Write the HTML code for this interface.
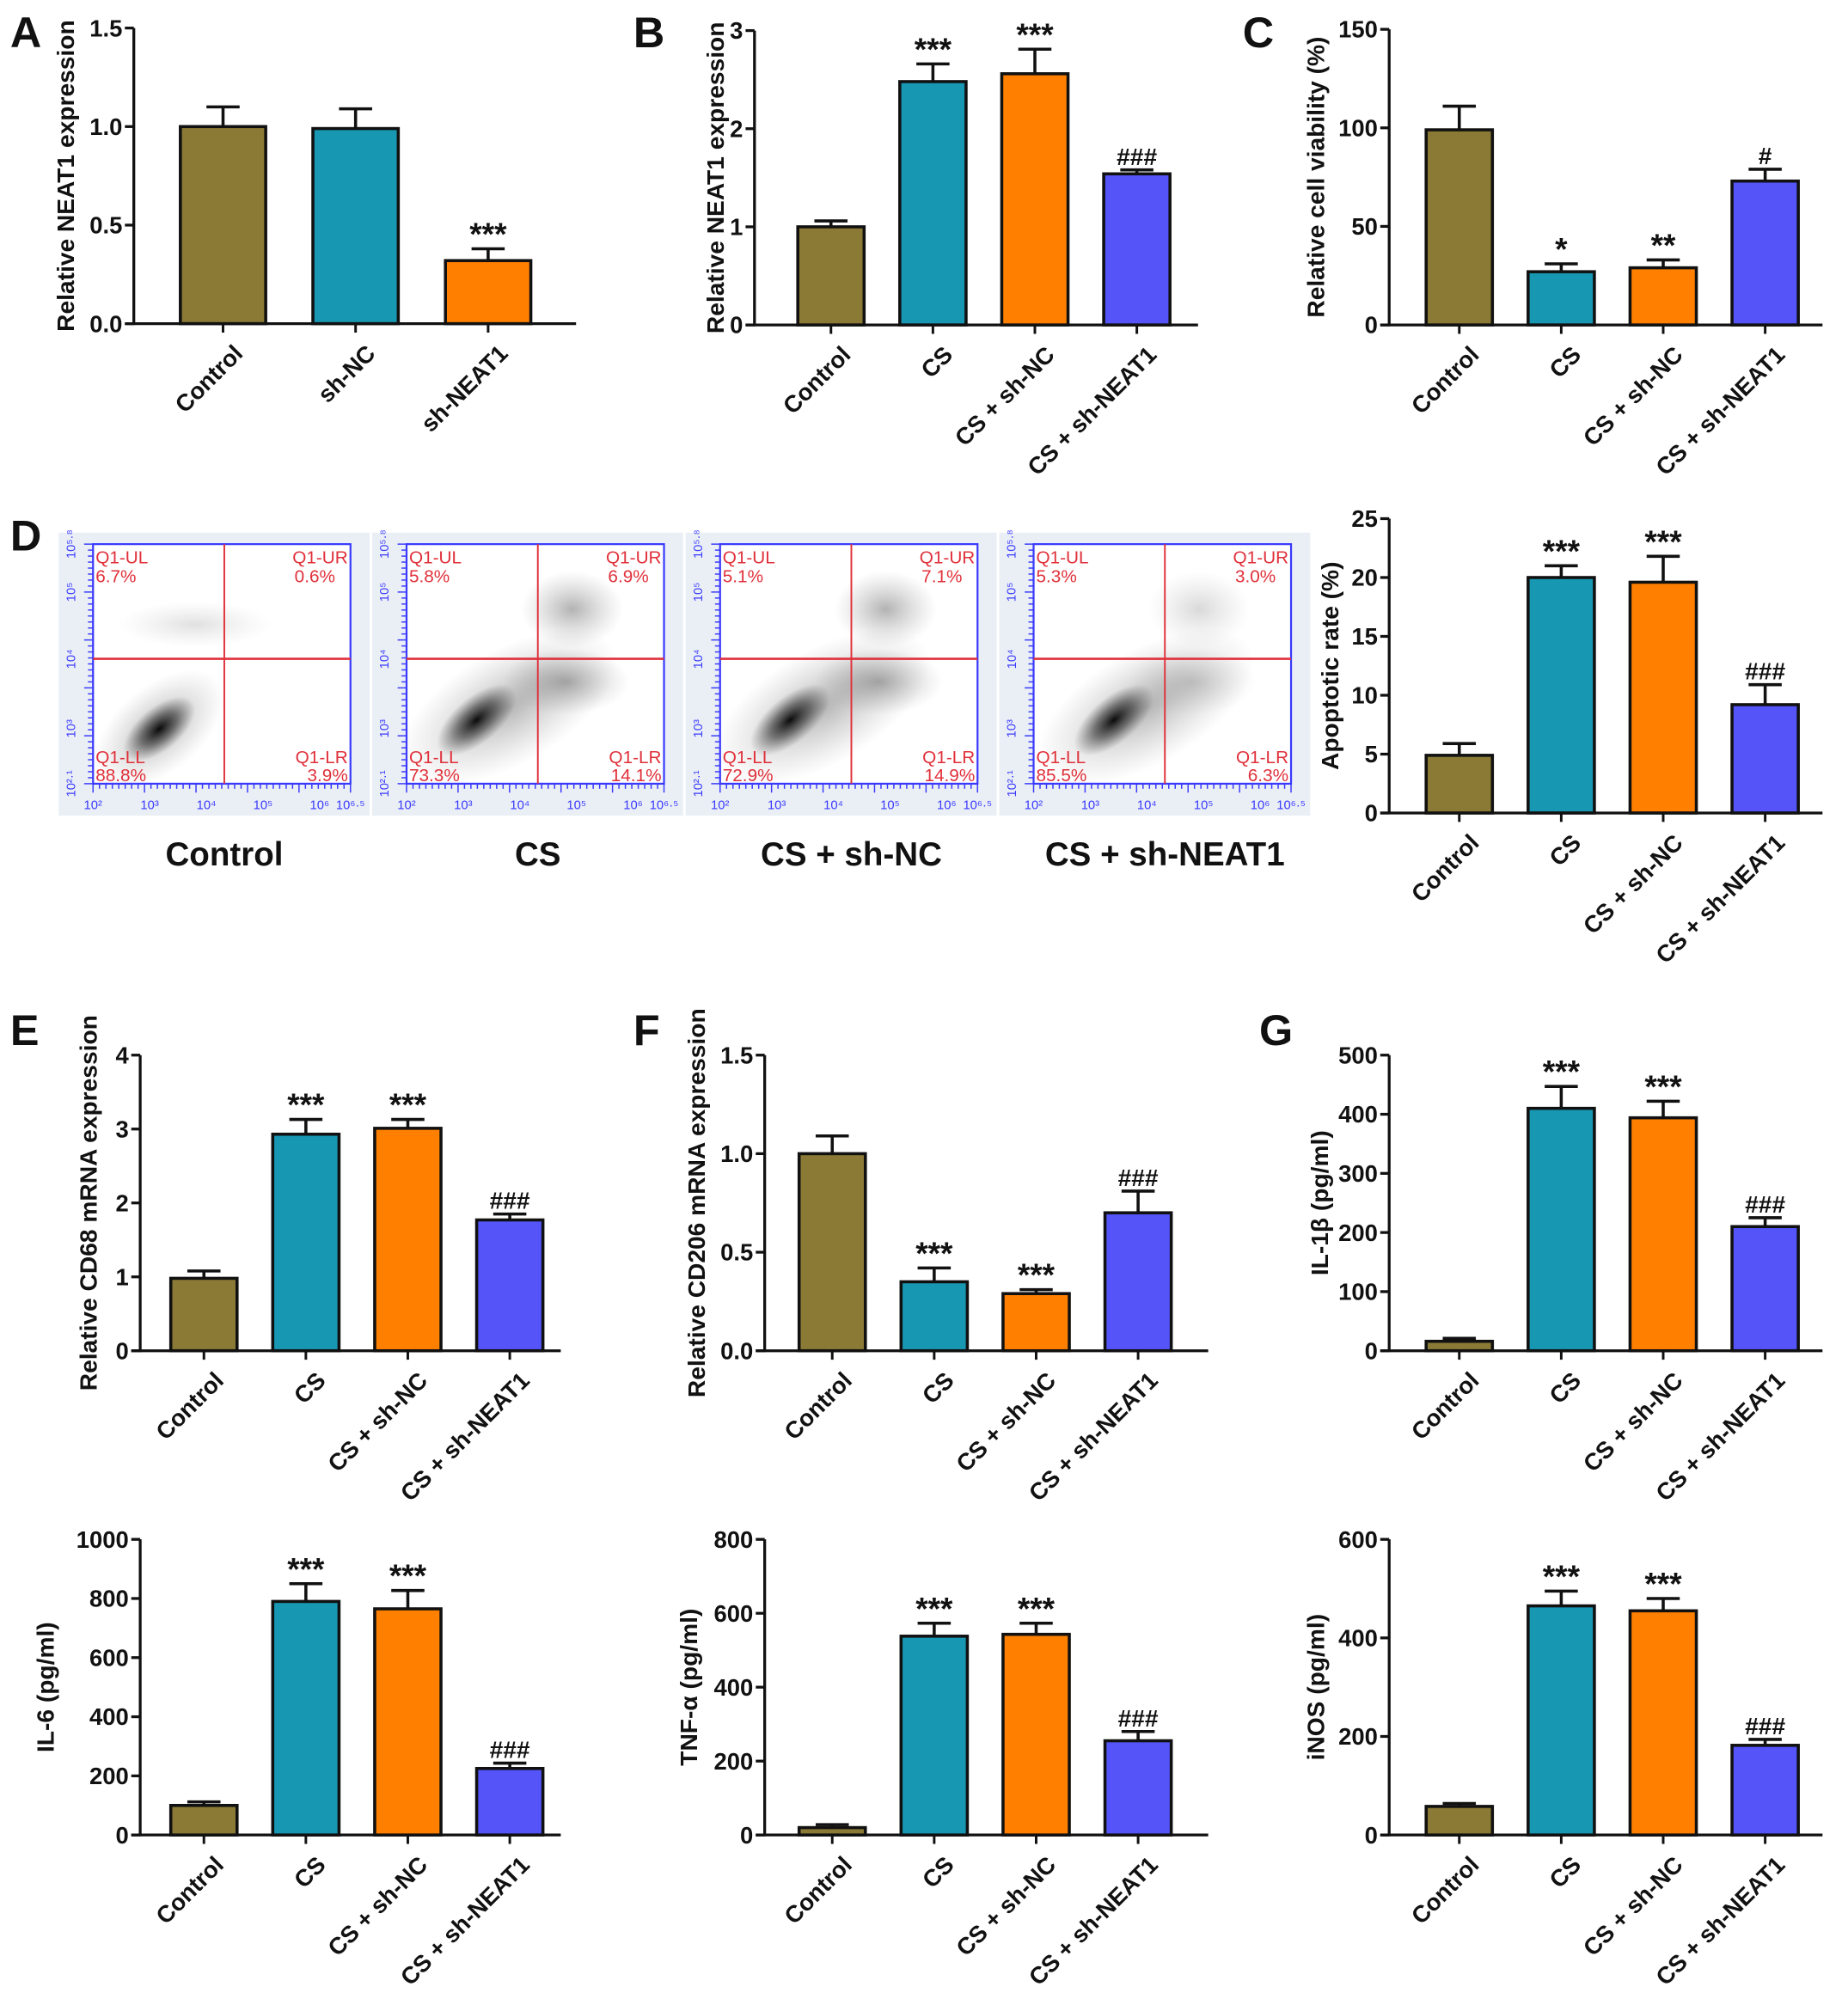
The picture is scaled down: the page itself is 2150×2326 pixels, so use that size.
<!DOCTYPE html>
<html><head><meta charset="utf-8">
<style>
html,body{margin:0;padding:0;background:#fff;}
svg{display:block;font-family:"Liberation Sans",Arial,sans-serif;}
</style></head>
<body>
<svg id="fig" width="2150" height="2326" viewBox="0 0 1450 1568.7" xmlns="http://www.w3.org/2000/svg">
<defs>
<radialGradient id="blob"><stop offset="0" stop-color="#000" stop-opacity="0.95"/><stop offset="0.5" stop-color="#222" stop-opacity="0.55"/><stop offset="1" stop-color="#444" stop-opacity="0"/></radialGradient>
<radialGradient id="haze"><stop offset="0" stop-color="#555" stop-opacity="0.45"/><stop offset="1" stop-color="#888" stop-opacity="0"/></radialGradient>
</defs>
</svg>
<script>
// ---- data ----
const groups4 = ["Control","CS","CS + sh-NC","CS + sh-NEAT1"];
const groupsA = ["Control","sh-NC","sh-NEAT1"];
const colors4 = ["#8a7a36","#1797b2","#ff8000","#5454f8"];
const colorsA = ["#8a7a36","#1797b2","#ff8000"];

const valsA = [1.0,0.99,0.32];  const errA = [0.10,0.10,0.06]; const annA = ["","","***"];
const valsB = [1.0,2.48,2.56,1.54]; const errB = [0.06,0.18,0.25,0.04]; const annB = ["","***","***","###"];
const valsC = [99,27,29,73]; const errC = [12,4,4,6]; const annC = ["","*","**","#"];
const valsD = [4.9,20.0,19.6,9.2]; const errD = [1.0,1.0,2.2,1.7]; const annD = ["","***","***","###"];
const valsE = [0.98,2.93,3.01,1.77]; const errE = [0.1,0.2,0.12,0.08]; const annE = ["","***","***","###"];
const valsF = [1.0,0.35,0.29,0.70]; const errF = [0.09,0.07,0.02,0.11]; const annF = ["","***","***","###"];
const valsG = [16,410,394,210]; const errG = [5,37,28,15]; const annG = ["","***","***","###"];
const valsIL6 = [100,790,765,225]; const errIL6 = [12,60,62,18]; const annIL6 = ["","***","***","###"];
const valsTNF = [20,538,543,255]; const errTNF = [8,35,30,25]; const annTNF = ["","***","***","###"];
const valsINOS = [58,465,455,182]; const errINOS = [6,30,25,12]; const annINOS = ["","***","***","###"];

const ticksA = [0,0.5,1.0,1.5]; const tickLabA = ["0.0","0.5","1.0","1.5"];
const ticksB = [0,1,2,3]; const tickLabB = ["0","1","2","3"];
const ticksC = [0,50,100,150]; const tickLabC = ["0","50","100","150"];
const ticksD = [0,5,10,15,20,25]; const tickLabD = ["0","5","10","15","20","25"];
const ticksE = [0,1,2,3,4]; const tickLabE = ["0","1","2","3","4"];
const ticksF = [0,0.5,1.0,1.5]; const tickLabF = ["0.0","0.5","1.0","1.5"];
const ticksG = [0,100,200,300,400,500]; const tickLabG = ["0","100","200","300","400","500"];
const ticksIL6 = [0,200,400,600,800,1000]; const tickLabIL6 = ["0","200","400","600","800","1000"];
const ticksTNF = [0,200,400,600,800]; const tickLabTNF = ["0","200","400","600","800"];
const ticksINOS = [0,200,400,600]; const tickLabINOS = ["0","200","400","600"];

const flowNames = ["Control","CS","CS + sh-NC","CS + sh-NEAT1"];
const flowUL = ["6.7%","5.8%","5.1%","5.3%"];
const flowUR = ["0.6%","6.9%","7.1%","3.0%"];
const flowLL = ["88.8%","73.3%","72.9%","85.5%"];
const flowLR = ["3.9%","14.1%","14.9%","6.3%"];

// ---- helpers ----
const svg = document.getElementById('fig');
const NS = "http://www.w3.org/2000/svg";
function mk(tag, attrs, parent, text){
  const e = document.createElementNS(NS, tag);
  for (const k in attrs) e.setAttribute(k, attrs[k]);
  if (text !== undefined) e.textContent = text;
  (parent||svg).appendChild(e);
  return e;
}

function barChart(cfg){
  const g = mk('g',{});
  
  
  const {x0,xEnd,yTop,yZero,max,ticks,tickLabels,vals,errs,anns,cats,cols,bw,spacing,first,title,titleX,fs} = cfg;
  const ys = v => yZero - (v/max)*(yZero-yTop);
  const xc = i => first + i*spacing;
  vals.forEach((v,i)=>{
    const cx = xc(i);
    const top = ys(v), et = ys(v+errs[i]);
    const el = mk('line',{x1:cx,x2:cx,y1:top,y2:et,stroke:'#111','stroke-width':2.4},g);
    
    
    const cap = mk('line',{x1:cx-13,x2:cx+13,y1:et,y2:et,stroke:'#111','stroke-width':2.4},g);
    
    
    const r = mk('rect',{x:cx-bw/2,y:top,width:bw,height:yZero-top,fill:cols[i],stroke:'#111','stroke-width':2.4},g);
    
    
    if (anns[i]){
      const isHash = anns[i].indexOf('#')>=0;
      const t = mk('text',{x:cx,y:et-(isHash?4:3),'text-anchor':'middle','font-size':isHash?19:25,'font-weight':'bold',fill:'#111'},g,anns[i]);
      
      
    }
    mk('line',{x1:cx,x2:cx,y1:yZero,y2:yZero+7,stroke:'#111','stroke-width':2},g);
    const lx = cx+7, ly = yZero+15;
    const lt = mk('text',{x:lx,y:ly,'text-anchor':'end','font-size':18.5,'font-weight':'bold',fill:'#111',transform:`rotate(-45 ${lx} ${ly})`,'dominant-baseline':'hanging'},g,cats[i]);
    
    
  });
  const ya = mk('line',{x1:x0,x2:x0,y1:yTop,y2:yZero+1,stroke:'#111','stroke-width':2.2},g);
   
  const xa = mk('line',{x1:x0-7,x2:xEnd,y1:yZero,y2:yZero,stroke:'#111','stroke-width':2.2},g);
   
  ticks.forEach((t,i)=>{
    const y = ys(t);
    mk('line',{x1:x0-7,x2:x0,y1:y,y2:y,stroke:'#111','stroke-width':2.2},g);
    const tl = mk('text',{x:x0-9,y:y+6.5,'text-anchor':'end','font-size':18.5,'font-weight':'bold',fill:'#111'},g,tickLabels[i]);
    
    
  });
  const cy = (yTop+yZero)/2;
  const yt = mk('text',{x:titleX,y:cy,'text-anchor':'middle','font-size':fs||19,'font-weight':'bold',fill:'#111',transform:`rotate(-90 ${titleX} ${cy})`},g,title);
  
  
}

function letter(ch,x,y){
  const t = mk('text',{x:x,y:y,'font-size':34,'font-weight':'bold',fill:'#111'},svg,ch);
  
  
}

letter('A',8,37); letter('B',497,37); letter('C',975,37); letter('D',8,432);
letter('E',8,820); letter('F',497,820); letter('G',988,820);

barChart({name:'chart-a-neat1',x0:105,xEnd:452,yTop:22,yZero:254,max:1.5,ticks:ticksA,tickLabels:tickLabA,vals:valsA,errs:errA,anns:annA,cats:groupsA,cols:colorsA,bw:67,spacing:104,first:175,title:'Relative NEAT1 expression',titleX:58});
barChart({name:'chart-b-neat1',x0:592,xEnd:940,yTop:24,yZero:255,max:3,ticks:ticksB,tickLabels:tickLabB,vals:valsB,errs:errB,anns:annB,cats:groups4,cols:colors4,bw:52,spacing:80,first:652,title:'Relative NEAT1 expression',titleX:568});
barChart({name:'chart-c-viability',x0:1090,xEnd:1430,yTop:23,yZero:255,max:150,ticks:ticksC,tickLabels:tickLabC,vals:valsC,errs:errC,anns:annC,cats:groups4,cols:colors4,bw:52,spacing:80,first:1145,title:'Relative cell viability (%)',titleX:1039});
barChart({name:'chart-d-apoptosis',x0:1090,xEnd:1430,yTop:407,yZero:638,max:25,ticks:ticksD,tickLabels:tickLabD,vals:valsD,errs:errD,anns:annD,cats:groups4,cols:colors4,bw:52,spacing:80,first:1145,title:'Apoptotic rate (%)',titleX:1050});
barChart({name:'chart-e-cd68',x0:110,xEnd:440,yTop:828,yZero:1060,max:4,ticks:ticksE,tickLabels:tickLabE,vals:valsE,errs:errE,anns:annE,cats:groups4,cols:colors4,bw:52,spacing:80,first:160,title:'Relative CD68 mRNA expression',titleX:76});
barChart({name:'chart-f-cd206',x0:600,xEnd:948,yTop:828,yZero:1060,max:1.5,ticks:ticksF,tickLabels:tickLabF,vals:valsF,errs:errF,anns:annF,cats:groups4,cols:colors4,bw:52,spacing:80,first:653,title:'Relative CD206 mRNA expression',titleX:553});
barChart({name:'chart-g-il1b',x0:1090,xEnd:1430,yTop:828,yZero:1060,max:500,ticks:ticksG,tickLabels:tickLabG,vals:valsG,errs:errG,anns:annG,cats:groups4,cols:colors4,bw:52,spacing:80,first:1145,title:'IL-1β (pg/ml)',titleX:1042});
barChart({name:'chart-il6',x0:110,xEnd:440,yTop:1208,yZero:1440,max:1000,ticks:ticksIL6,tickLabels:tickLabIL6,vals:valsIL6,errs:errIL6,anns:annIL6,cats:groups4,cols:colors4,bw:52,spacing:80,first:160,title:'IL-6 (pg/ml)',titleX:42});
barChart({name:'chart-tnf',x0:600,xEnd:948,yTop:1208,yZero:1440,max:800,ticks:ticksTNF,tickLabels:tickLabTNF,vals:valsTNF,errs:errTNF,anns:annTNF,cats:groups4,cols:colors4,bw:52,spacing:80,first:653,title:'TNF-α (pg/ml)',titleX:547});
barChart({name:'chart-inos',x0:1090,xEnd:1430,yTop:1208,yZero:1440,max:600,ticks:ticksINOS,tickLabels:tickLabINOS,vals:valsINOS,errs:errINOS,anns:annINOS,cats:groups4,cols:colors4,bw:52,spacing:80,first:1145,title:'iNOS (pg/ml)',titleX:1039});

// ---- flow cytometry plots ----
flowNames.forEach((nm,i)=>{
  const bx = 46 + i*246;
  const g = mk('g',{});
  
  
  mk('rect',{x:bx,y:418,width:244,height:222,fill:'#eaeff5'},g);
  const X0 = bx+27, X1 = bx+229, Y0 = 427, Y1 = 615;
  mk('rect',{x:X0,y:Y0,width:X1-X0,height:Y1-Y0,fill:'#fff',stroke:'#3a3aff','stroke-width':1.5},g);
  const qx = X0+103, qy = 517;
  if (i===0){
    mk('ellipse',{cx:X0+52,cy:572,rx:60,ry:34,fill:'url(#haze)',transform:`rotate(-40 ${X0+52} 572)`},g);
    mk('ellipse',{cx:X0+52,cy:572,rx:34,ry:17,fill:'url(#blob)',transform:`rotate(-40 ${X0+52} 572)`},g);
    mk('ellipse',{cx:X0+80,cy:490,rx:60,ry:18,fill:'url(#haze)',opacity:0.4},g);
  } else {
    const dx = i===3?8:0;
    const op = i===3?0.5:1;
    mk('ellipse',{cx:X0+80+dx,cy:555,rx:95,ry:45,fill:'url(#haze)',transform:`rotate(-30 ${X0+80+dx} 555)`},g);
    mk('ellipse',{cx:X0+55+dx,cy:565,rx:38,ry:18,fill:'url(#blob)',transform:`rotate(-40 ${X0+55+dx} 565)`},g);
    mk('ellipse',{cx:X0+125,cy:535,rx:50,ry:26,fill:'url(#haze)',opacity:op},g);
    mk('ellipse',{cx:X0+130,cy:478,rx:40,ry:30,fill:'url(#haze)',opacity:op},g);
  }
  mk('line',{x1:qx,x2:qx,y1:Y0,y2:Y1,stroke:'#e0303a','stroke-width':1.3},g);
  mk('line',{x1:X0,x2:X1,y1:qy,y2:qy,stroke:'#e0303a','stroke-width':1.8},g);
  const ts = {'font-size':14,fill:'#e0303a'};
  mk('text',Object.assign({x:X0+2,y:Y0+15},ts),g,'Q1-UL');
  mk('text',Object.assign({x:X0+2,y:Y0+30},ts),g,flowUL[i]);
  mk('text',Object.assign({x:X1-2,y:Y0+15,'text-anchor':'end'},ts),g,'Q1-UR');
  mk('text',Object.assign({x:X1-12,y:Y0+30,'text-anchor':'end'},ts),g,flowUR[i]);
  mk('text',Object.assign({x:X0+2,y:Y1-16},ts),g,'Q1-LL');
  mk('text',Object.assign({x:X0+2,y:Y1-2},ts),g,flowLL[i]);
  mk('text',Object.assign({x:X1-2,y:Y1-16,'text-anchor':'end'},ts),g,'Q1-LR');
  mk('text',Object.assign({x:X1-2,y:Y1-2,'text-anchor':'end'},ts),g,flowLR[i]);
  for (let k=0;k<=40;k++){
    const x = X0 + k*(X1-X0)/40;
    mk('line',{x1:x,x2:x,y1:Y1,y2:Y1+(k%8===0?7:4),stroke:'#3a3aff','stroke-width':1},g);
    const y = Y1 - k*(Y1-Y0)/40;
    mk('line',{x1:X0,x2:X0-(k%8===0?7:4),y1:y,y2:y,stroke:'#3a3aff','stroke-width':1},g);
  }
  ['10²','10³','10⁴','10⁵','10⁶','10⁶·⁵'].forEach((l,k)=>{
    const x = X0 + [0,0.22,0.44,0.66,0.88,1.0][k]*(X1-X0);
    mk('text',{x:x,y:Y1+20,'font-size':10,fill:'#3a3aff','text-anchor':'middle'},g,l);
  });
  ['10²·¹','10³','10⁴','10⁵','10⁵·⁸'].forEach((l,k)=>{
    const y = Y1 - [0,0.23,0.52,0.8,1.0][k]*(Y1-Y0);
    mk('text',{x:X0-14,y:y,'font-size':10,fill:'#3a3aff','text-anchor':'middle',transform:`rotate(-90 ${X0-14} ${y})`},g,l);
  });
  const lab = mk('text',{x:bx+130,y:679,'text-anchor':'middle','font-size':26,'font-weight':'bold',fill:'#111'},svg,nm);
  
  
});
</script>
</body></html>
